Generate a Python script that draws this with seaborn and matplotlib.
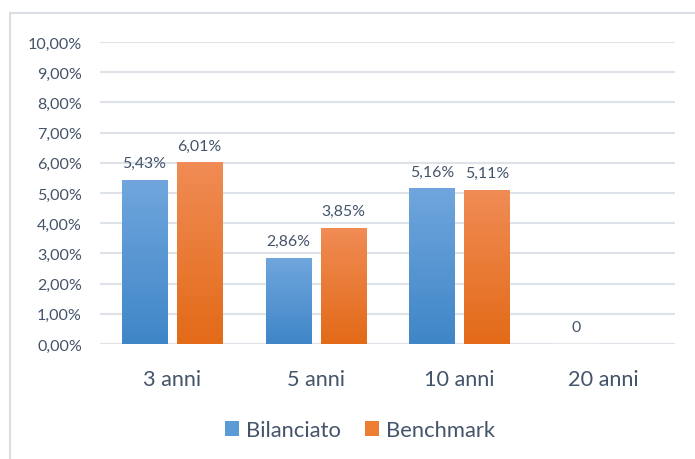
import numpy as np
import pandas as pd
import matplotlib
matplotlib.use("Agg")
import matplotlib.pyplot as plt
from matplotlib.colors import LinearSegmentedColormap
from matplotlib.lines import Line2D
from matplotlib.patches import Patch
import seaborn as sns

# dati
periodi = ["3 anni", "5 anni", "10 anni", "20 anni"]
bilanciato = [0.0543, 0.0286, 0.0516, 0.0]
benchmark = [0.0601, 0.0385, 0.0511, np.nan]
serie = ["Bilanciato", "Benchmark"]

df = pd.DataFrame({
    "periodo": periodi * 2,
    "serie": [serie[0]] * 4 + [serie[1]] * 4,
    "valore": bilanciato + benchmark,
})

testo = "#44546A"
griglia = "#DEE3E9"
colori = {"Bilanciato": "#5B9BD5", "Benchmark": "#ED7D31"}
gradienti = {
    "Bilanciato": ("#70A6DD", "#3F86C7"),
    "Benchmark": ("#F08C55", "#E36A18"),
}

sns.set_style("white")
plt.rcParams["font.family"] = ["Lato", "DejaVu Sans"]

fig = plt.figure(figsize=(6.95, 4.60), dpi=100)
ax = fig.add_axes([100 / 695, 1 - 345 / 460, 575 / 695, 302 / 460])

sns.barplot(data=df, x="periodo", y="valore", hue="serie", order=periodi,
            hue_order=serie, palette=colori, width=0.765, gap=0.18,
            legend=False, ax=ax, zorder=3)

# riempimento sfumato delle barre (stile Excel)
grad = np.linspace(0, 1, 256).reshape(-1, 1)
for cont, nome in zip(ax.containers, serie):
    cmap = LinearSegmentedColormap.from_list(nome, gradienti[nome])
    for bar in cont:
        x0, y0 = bar.get_x(), bar.get_y()
        w, h = bar.get_width(), bar.get_height()
        if not np.isfinite(h) or h == 0:
            continue
        im = ax.imshow(grad, extent=[x0, x0 + w, y0, y0 + h], origin="lower",
                       cmap=cmap.reversed(), aspect="auto", zorder=3)
        im.set_clip_path(bar)
        bar.set_facecolor("none")
        bar.set_edgecolor("none")

def etichetta(v):
    if v == 0:
        return "0"
    return f"{v * 100:.2f}%".replace(".", ",")

for cont in ax.containers:
    ax.bar_label(cont, fmt=etichetta, padding=7, fontsize=11.4, color=testo)

ax.set_xlim(-0.5, 3.5)
ax.set_ylim(0, 0.10)
ax.set_yticks(np.arange(0, 0.101, 0.01))
ax.set_yticklabels([f"{t * 100:.2f}%".replace(".", ",") for t in np.arange(0, 0.101, 0.01)])
ax.yaxis.grid(True, color=griglia, linewidth=1.5, zorder=0)
ax.set_axisbelow(True)
ax.tick_params(axis="y", length=0, pad=13, labelsize=11.6, labelcolor=testo)
ax.tick_params(axis="x", length=0, pad=18, labelsize=15.6, labelcolor=testo)
ax.set_xlabel("")
ax.set_ylabel("")
for s in ax.spines.values():
    s.set_visible(False)

# cornice del grafico
fig.add_artist(Line2D([10 / 695, 1], [1 - 14 / 460] * 2, color="#D9DEE4", lw=1.5))
fig.add_artist(Line2D([10 / 695] * 2, [0, 1 - 14 / 460], color="#D9DEE4", lw=1.5))

maniglie = [Patch(facecolor=colori[s], edgecolor="none", label=s) for s in serie]
fig.legend(handles=maniglie, loc="center", bbox_to_anchor=(0.518, 1 - 431 / 460),
           ncol=2, frameon=False, fontsize=15.8, labelcolor=testo,
           handlelength=0.64, handleheight=0.64, handletextpad=0.3, columnspacing=1.1)

fig.savefig("out.png", dpi=100)
